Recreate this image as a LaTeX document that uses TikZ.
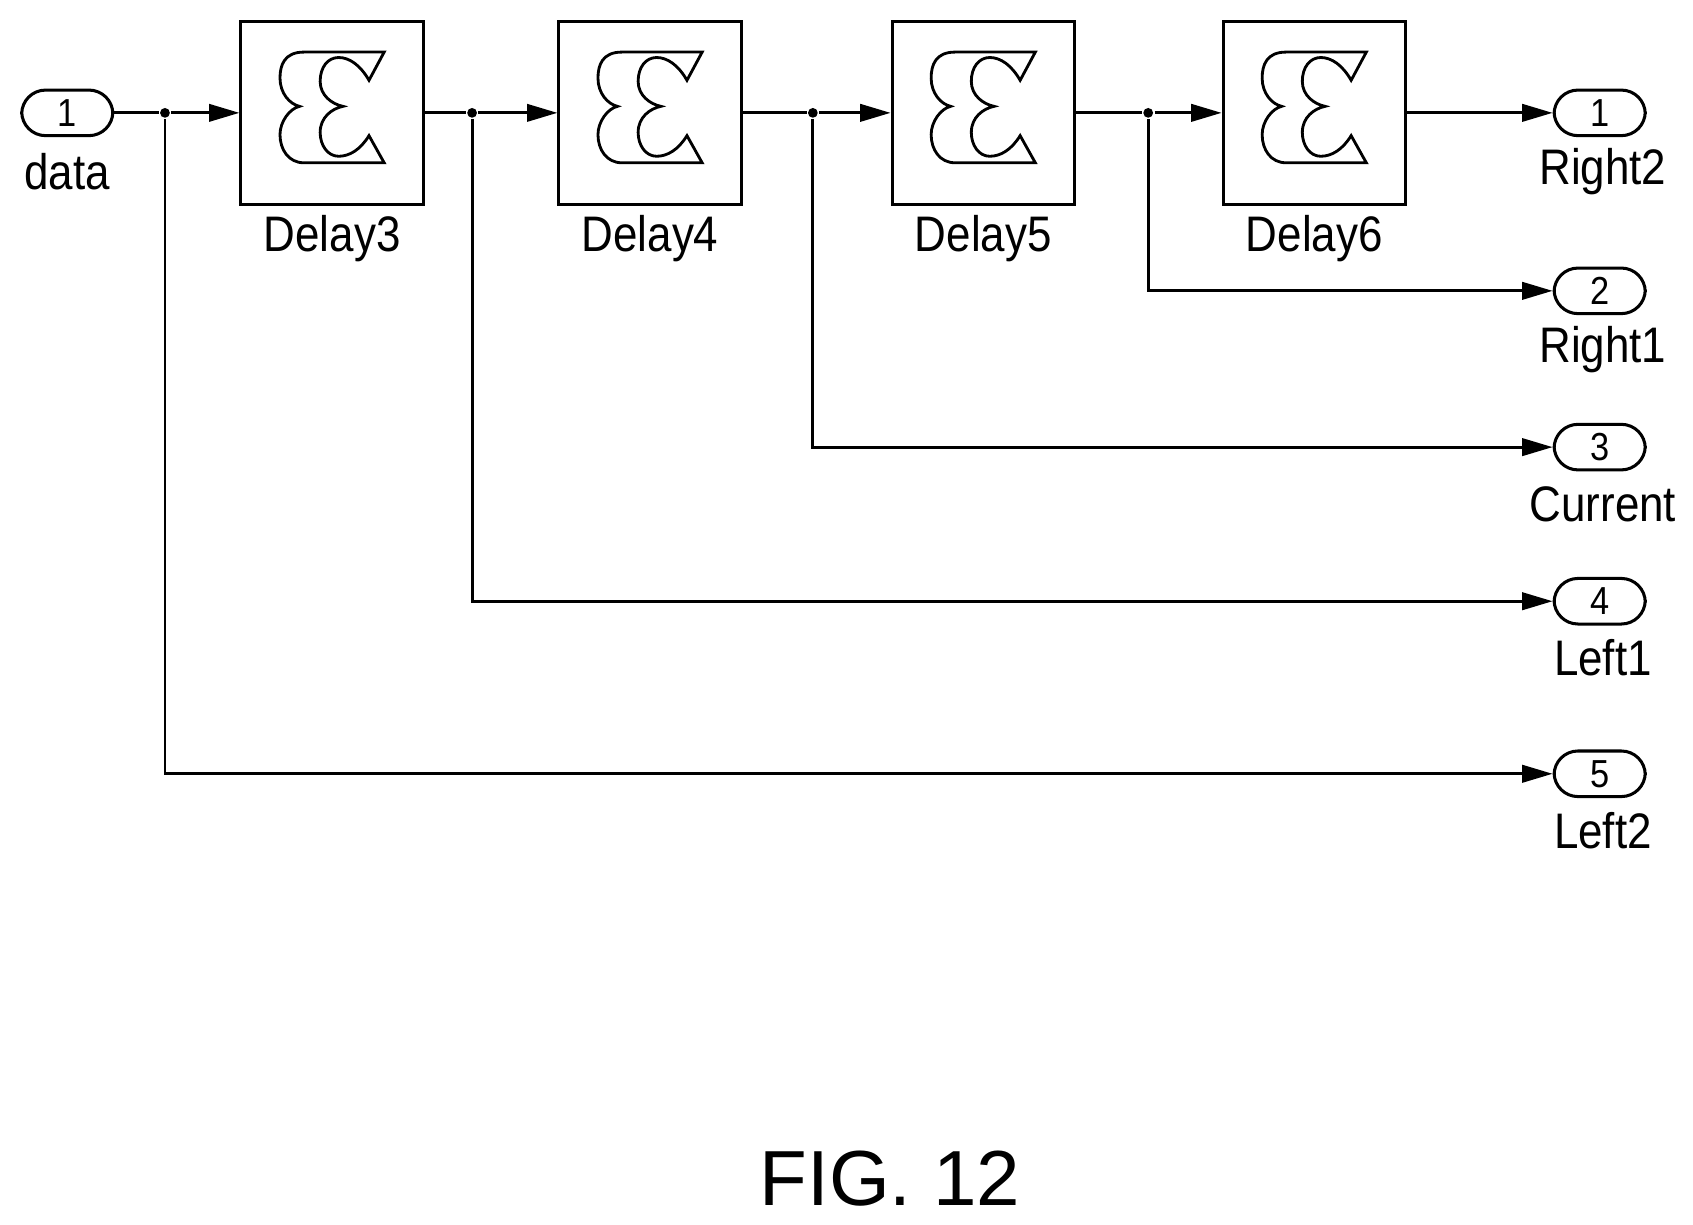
\documentclass[tikz,border=0pt]{standalone}
\usepackage{fontspec}
\setmainfont{Liberation Sans}
\newfontfamily\narrowf[FakeStretch=0.88]{Liberation Sans}
\usetikzlibrary{arrows.meta}
\begin{document}
\begin{tikzpicture}[x=0.5pt,y=-0.5pt,
  line width=1.3pt,
  arr/.style={-{Triangle[length=14pt,width=8pt]}},
  blk/.style={draw,line width=1.4pt,rectangle,minimum width=84pt,minimum height=84pt,inner sep=0pt},
  port/.style={draw,line width=1.4pt,rectangle,rounded corners=11pt,minimum width=42pt,minimum height=21pt,inner sep=0pt,font=\narrowf\fontsize{18}{19}\selectfont},
  lbl/.style={font=\narrowf\fontsize{23}{24}\selectfont,inner sep=0pt},
  dot/.style={circle,fill=black,inner sep=0pt,minimum size=4.5pt}]
\useasboundingbox (0,0) rectangle (1560,1128);
% input
\node[port] (in) at (62,104) {1};
\node[lbl] at (62,158) {data};
% boxes
\foreach \n/\x in {3/306,4/599,5/906,6/1211}{
  \node[blk] (d\n) at (\x,104) {};
  \node[lbl] at (\x,220) {Delay\n};
  \begin{scope}[shift={(\x-84,20)}]
    \draw[line width=1.3pt] (132,28) -- (58,28) .. controls (40,28) and (36,40) .. (36,52) .. controls (36,66) and (45,76) .. (54,78) .. controls (45,80) and (36,92) .. (36,104) .. controls (36,118) and (44,130) .. (58,130) -- (132,130) -- (118,105) .. controls (110,118) and (100,124) .. (90,124) .. controls (80,124) and (73,114) .. (73,102) .. controls (73,88) and (84,80) .. (94,78) .. controls (84,76) and (73,68) .. (73,55) .. controls (73,42) and (80,33) .. (90,33) .. controls (100,33) and (110,40) .. (118,54) -- cycle;
  \end{scope}
}
% outputs
\foreach \i/\y/\t/\ly in {1/104/Right2/158,2/268/Right1/322,3/412/Current/465,4/554/Left1/606,5/713/Left2/765}{
  \node[port] (o\i) at (1474,\y) {\i};
  \node[lbl] at (1477,\ly) {\t};
}
% dots
\node[dot] (p1) at (152,104) {};
\node[dot] (p2) at (435,104) {};
\node[dot] (p3) at (749,104) {};
\node[dot] (p4) at (1058,104) {};
% wires
\draw (in) -- (p1);
\draw[arr] (p1) -- (d3);
\draw (d3) -- (p2);
\draw[arr] (p2) -- (d4);
\draw (d4) -- (p3);
\draw[arr] (p3) -- (d5);
\draw (d5) -- (p4);
\draw[arr] (p4) -- (d6);
\draw[arr] (d6) -- (o1);
\draw[arr] (p4) |- (o2);
\draw[arr] (p3) |- (o3);
\draw[arr] (p2) |- (o4);
\draw[arr] (p1) |- (o5);
\node[font=\fontsize{36}{38}\selectfont] (fig) at (820,1086) {FIG. 12};
\end{tikzpicture}
\end{document}
